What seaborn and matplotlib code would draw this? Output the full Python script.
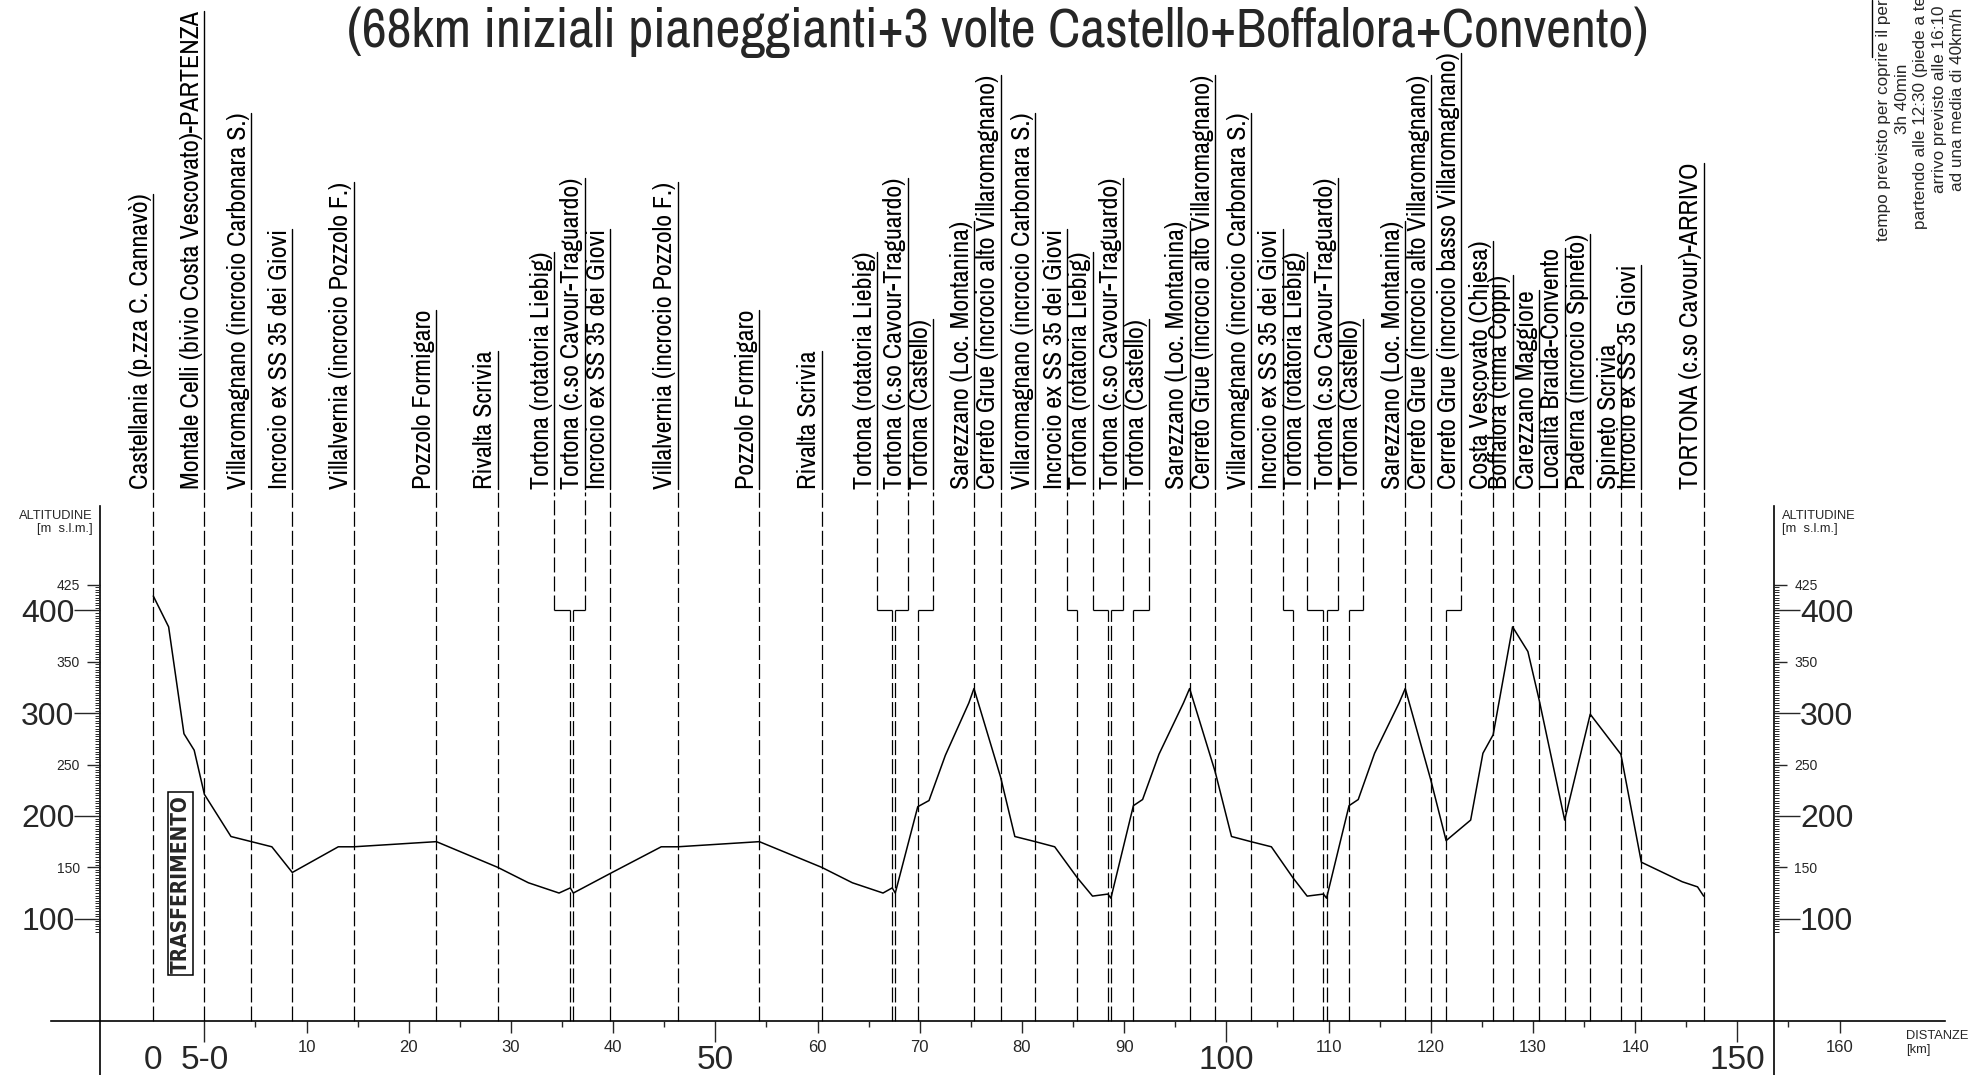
import matplotlib
matplotlib.use('Agg')

import matplotlib.pyplot as plt
from matplotlib import font_manager
import seaborn as sns
import pandas as pd

sns.set_style('white')
plt.rcParams['font.family'] = ['Liberation Sans', 'DejaVu Sans']
plt.rcParams['lines.scale_dashes'] = False

# --- data -------------------------------------------------------------
profile_km = [-5.0, -3.5, -2.0, -1.0, 0.0, 2.6, 6.6, 8.6, 13.1, 14.6, 22.7, 28.7, 31.7, 34.7,
              35.8, 36.1, 39.7, 44.7, 46.3, 54.3, 60.4, 63.4, 66.4, 67.3, 67.6, 69.8, 70.9,
              72.5, 74.8, 75.3, 77.9, 79.3, 81.3, 83.2, 85.4, 86.9, 88.4, 88.7, 90.9, 91.8,
              93.4, 95.8, 96.4, 98.9, 100.5, 102.4, 104.4, 106.5, 107.9, 109.5, 109.8, 112.0,
              112.9, 114.5, 116.9, 117.5, 120.0, 121.5, 123.9, 125.1, 126.1, 128.0, 129.5,
              130.6, 133.1, 135.6, 138.6, 140.6, 144.6, 146.1, 146.7]
profile_alt = [414, 384, 280, 264, 221, 180, 170, 145, 170, 170, 175, 150, 135, 125,
               130, 125, 144, 170, 170, 175, 150, 135, 125, 130, 125, 209, 215,
               259, 310, 324, 238, 180, 175, 170, 140, 122, 124, 120, 210, 216,
               260, 310, 324, 243, 180, 175, 170, 140, 122, 124, 120, 210,
               216, 261, 310, 324, 235, 176, 196, 261, 279, 384, 360,
               313, 196, 299, 260, 155, 136, 131, 122]

place_names = [
    'Castellania (p.zza C. Cannavò)',
    'Montale Celli (bivio Costa Vescovato)-PARTENZA',
    'Villaromagnano (incrocio Carbonara S.)',
    'Incrocio ex SS 35 dei Giovi',
    'Villalvernia (incrocio Pozzolo F.)',
    'Pozzolo Formigaro',
    'Rivalta Scrivia',
    'Tortona (rotatoria Liebig)',
    'Tortona (c.so Cavour-Traguardo)',
    'Incrocio ex SS 35 dei Giovi',
    'Villalvernia (incrocio Pozzolo F.)',
    'Pozzolo Formigaro',
    'Rivalta Scrivia',
    'Tortona (rotatoria Liebig)',
    'Tortona (c.so Cavour-Traguardo)',
    'Tortona (Castello)',
    'Sarezzano (Loc. Montanina)',
    'Cerreto Grue (incrocio alto Villaromagnano)',
    'Villaromagnano (incrocio Carbonara S.)',
    'Incrocio ex SS 35 dei Giovi',
    'Tortona (rotatoria Liebig)',
    'Tortona (c.so Cavour-Traguardo)',
    'Tortona (Castello)',
    'Sarezzano (Loc. Montanina)',
    'Cerreto Grue (incrocio alto Villaromagnano)',
    'Villaromagnano (incrocio Carbonara S.)',
    'Incrocio ex SS 35 dei Giovi',
    'Tortona (rotatoria Liebig)',
    'Tortona (c.so Cavour-Traguardo)',
    'Tortona (Castello)',
    'Sarezzano (Loc. Montanina)',
    'Cerreto Grue (incrocio alto Villaromagnano)',
    'Cerreto Grue (incrocio basso Villaromagnano)',
    'Costa Vescovato (Chiesa)',
    'Boffalora (cima Coppi)',
    'Carezzano Maggiore',
    'Località Braida-Convento',
    'Paderna (incrocio Spineto)',
    'Spineto Scrivia',
    'Incrocio ex SS 35 Giovi',
    'TORTONA (c.so Cavour)-ARRIVO',
]
# where the place is on the route
place_km = [-5.0, 0.0, 4.6, 8.6, 14.6, 22.7, 28.7, 35.8, 36.1, 39.7, 46.3, 54.3, 60.4,
            67.3, 67.6, 69.8, 75.3, 77.9, 81.3, 85.4, 88.4, 88.7, 90.9, 96.4, 98.9,
            102.4, 106.5, 109.5, 109.8, 112.0, 117.5, 120.0, 121.5, 126.1, 128.0,
            130.6, 133.1, 135.6, 138.6, 140.6, 146.7]
# where its label stands (moved apart when places are too close)
label_km = [-5.0, 0.0, 4.6, 8.6, 14.6, 22.7, 28.7, 34.2, 37.2, 39.7, 46.3, 54.3, 60.4,
            65.8, 68.8, 71.3, 75.3, 77.9, 81.3, 84.4, 86.9, 89.9, 92.4, 96.4, 98.9,
            102.4, 105.5, 107.9, 110.9, 113.4, 117.5, 120.0, 123.0, 126.1, 128.0,
            130.6, 133.1, 135.6, 138.6, 140.6, 146.7]

alt_major = [100, 200, 300, 400]
alt_minor = [150, 250, 350, 425]
alt_fine = [87.5 + 2.5 * i for i in range(136)]
km_major = [-5, 0, 50, 100, 150]
km_major_labels = ['0', '5-0', '50', '100', '150']
km_minor = [10, 20, 30, 40, 60, 70, 80, 90, 110, 120, 130, 140, 160]
km_fine = list(range(5, 160, 10))

title = '(68km iniziali pianeggianti+3 volte Castello+Boffalora+Convento)'
info_lines = ['tempo previsto per coprire il percorso', '3h 40min',
              'partendo alle 12:30 (piede a terra)', 'arrivo previsto alle 16:10',
              'ad una media di 40km/h']

# --- fonts ------------------------------------------------------------
entries = font_manager.fontManager.ttflist


def weight_of(f):
    w = f.weight
    return w if isinstance(w, int) else font_manager.weight_dict.get(w, 400)


def has_font(name, lo=0, hi=1000):
    return any(f.name == name and lo <= weight_of(f) <= hi for f in entries)


if has_font('Archivo Narrow'):
    narrow = dict(family='Archivo Narrow')
    label_font = dict(narrow, fontweight=500 if has_font('Archivo Narrow', 500, 600) else 400)
    bold_font = (dict(narrow, fontweight='bold') if has_font('Archivo Narrow', 650, 900)
                 else dict(family='DejaVu Sans', stretch='condensed', fontweight='bold'))
else:
    narrow = dict(family='DejaVu Sans', stretch='condensed')
    label_font = dict(narrow)
    bold_font = dict(narrow, fontweight='bold')

# --- figure -----------------------------------------------------------
W, H = 1979, 1075
fig = plt.figure(figsize=(W / 100, H / 100), dpi=100)
ax = fig.add_axes([0, 0, 1, 1])
axf = fig.add_axes([0, 0, 1, 1])
XL, YL = (-20.0, 173.64), (-52.06, 993.97)
LEFT_X, RIGHT_X = -10.2, 153.6
for a in (ax, axf):
    a.set_xlim(*XL)
    a.set_ylim(*YL)
    a.patch.set_visible(False)
    a.spines['top'].set_visible(False)
    a.spines['left'].set_position(('data', LEFT_X))
    a.spines['right'].set_position(('data', RIGHT_X))
    a.spines['bottom'].set_position(('data', 0))
    a.spines['left'].set_bounds(-52, 502)
    a.spines['right'].set_bounds(-52, 502)
    a.spines['bottom'].set_bounds(-15.0, 170.3)
for s in ax.spines.values():
    s.set_color('black')
    s.set_linewidth(1.2)
for s in axf.spines.values():
    s.set_color('none')

# profile
df = pd.DataFrame({'km': profile_km, 'alt': profile_alt})
sns.lineplot(data=df, x='km', y='alt', ax=ax, color='black', linewidth=1.1,
             sort=False, estimator=None)
ax.set_xlabel('')
ax.set_ylabel('')

# place markers: dashed verticals, with a bracket when the label was moved
DASH = (0, (10.8, 2.9))
LINE_TOP, LABEL_Y, KNEE = 515, 518, 400
for pk, lk in zip(place_km, label_km):
    if abs(pk - lk) < 1e-6:
        ax.vlines(pk, 0, LINE_TOP, colors='black', linewidth=0.9, linestyles=DASH)
    else:
        ax.vlines(lk, KNEE, LINE_TOP, colors='black', linewidth=0.9, linestyles=DASH)
        ax.hlines(KNEE, min(lk, pk), max(lk, pk), colors='black', linewidth=0.9)
        ax.vlines(pk, 0, KNEE, colors='black', linewidth=0.9, linestyles=DASH)

# label size fitted to the longest label length
probe = fig.text(0, 0, place_names[32], fontsize=10, rotation=90, **label_font)
fig.canvas.draw()
lab_fs = 10 * 440 / probe.get_window_extent().height
probe.remove()

labels = []
for name, lk in zip(place_names, label_km):
    t = ax.text(lk - 0.12, LABEL_Y, name, rotation=90, rotation_mode='anchor',
                ha='left', va='bottom', fontsize=lab_fs, color='black', **label_font)
    labels.append((t, lk))
fig.canvas.draw()
inv = ax.transData.inverted()
for t, lk in labels:
    bb = t.get_window_extent()
    top = inv.transform((bb.x1, bb.y1))[1]
    ax.plot([lk, lk], [LABEL_Y, top], color='black', linewidth=1.0)

# axes ticks
ax.yaxis.set_ticks_position('both')
ax.set_yticks(alt_major)
ax.set_yticklabels([str(v) for v in alt_major])
ax.set_yticks(alt_minor, minor=True)
ax.set_yticklabels([str(v) for v in alt_minor], minor=True)
ax.tick_params(axis='y', which='major', direction='out', length=18.5, width=1,
               pad=0, labelsize=23, left=True, right=True, labelleft=True, labelright=True)
ax.tick_params(axis='y', which='minor', direction='out', length=9.5, width=1,
               pad=5, labelsize=10, left=True, right=True, labelleft=True, labelright=True)

ax.set_xticks(km_major)
ax.set_xticklabels(km_major_labels)
ax.set_xticks(km_minor, minor=True)
ax.set_xticklabels([str(v) for v in km_minor], minor=True)
ax.tick_params(axis='x', which='major', direction='out', length=15, width=1,
               pad=2, labelsize=24, bottom=True, top=False)
ax.tick_params(axis='x', which='minor', direction='out', length=8.6, width=1,
               pad=5, labelsize=12, bottom=True, top=False)
ax.xaxis.get_major_ticks()[0].tick1line.set_visible(False)

axf.yaxis.set_ticks_position('both')
axf.set_yticks(alt_fine)
axf.set_xticks(km_fine)
axf.tick_params(axis='y', direction='out', length=3.6, width=0.7, left=True, right=True,
                labelleft=False, labelright=False)
axf.tick_params(axis='x', direction='out', length=4.2, width=1, bottom=True,
                labelbottom=False)

# axis captions
ax.text(LEFT_X - 0.7, 498, 'ALTITUDINE\n[m  s.l.m.]', ha='right', va='top',
        fontsize=9.3, linespacing=1.15)
ax.text(RIGHT_X + 0.8, 498, 'ALTITUDINE\n[m  s.l.m.]', ha='left', va='top',
        fontsize=9.3, linespacing=1.15)
ax.text(166.5, -8, 'DISTANZE\n[km]', ha='left', va='top', fontsize=9.3, linespacing=1.3)

# transfer box, text length fitted to the box in the reference
tr = ax.text(-2.3, 134, 'TRASFERIMENTO', rotation=90, ha='center', va='center',
             fontsize=15, **bold_font,
             bbox=dict(boxstyle='square,pad=0.12', fc='white', ec='black', lw=1.1))
fig.canvas.draw()
tr.set_fontsize(15 * 178 / tr.get_window_extent().height)

# title
tt = fig.text(0.504, 1 - 58 / H, title, ha='center', va='bottom', fontsize=40, **narrow)
fig.canvas.draw()
tt.set_fontsize(40 * 1302 / tt.get_window_extent().width)

# note in the top right corner, centred lines running upwards
fig.text(1876 / W, 1 - 99 / H, '\n'.join(info_lines), rotation=90, ha='left',
         va='center', fontsize=12.3, multialignment='center', linespacing=1.3)
fig.add_artist(plt.Line2D([1872 / W, 1872 / W], [1, 1 - 57 / H], color='black', lw=1))

plt.savefig('out.png', dpi=100)
